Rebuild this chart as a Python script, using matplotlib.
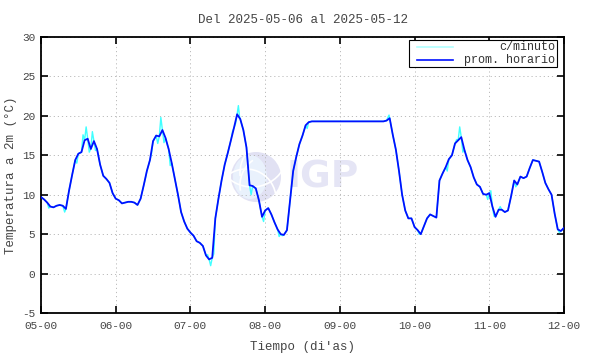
import matplotlib
matplotlib.use("Agg")
import matplotlib.pyplot as plt
from matplotlib.patches import Ellipse, Arc, Rectangle
from matplotlib.lines import Line2D

# ---------------- data ----------------
title = "Del 2025-05-06 al 2025-05-12"
xlabel = "Tiempo (di'as)"
ylabel = "Temperatura a 2m (°C)"
series_names = ["c/minuto", "prom. horario"]
tick_labels = ["05-00", "06-00", "07-00", "08-00", "09-00", "10-00", "11-00", "12-00"]
tick_hours = [0, 24, 48, 72, 96, 120, 144, 168]
yticks = [-5, 0, 5, 10, 15, 20, 25, 30]

# hourly mean temperature, hours 0..168
hourly = [
    9.7, 9.4, 9.0, 8.5, 8.4, 8.6, 8.7, 8.6, 8.2, 10.5, 12.5, 14.4, 15.2, 15.4, 16.9, 17.1,
    15.8, 16.8, 15.8, 13.8, 12.4, 12.0, 11.5, 10.2,
    9.5, 9.3, 8.9, 9.0, 9.1, 9.1, 9.0, 8.7, 9.5, 11.2, 13.0, 14.4, 16.8, 17.5, 17.4, 18.2,
    17.2, 15.8, 14.0, 12.0, 10.0, 7.8, 6.6, 5.7,
    5.2, 4.8, 4.1, 3.9, 3.5, 2.3, 1.8, 2.0, 7.0, 9.5, 11.8, 13.8, 15.3, 16.9, 18.5, 20.2,
    19.6, 18.2, 16.0, 11.2, 11.1, 10.8, 9.3, 7.2,
    8.0, 8.3, 7.5, 6.5, 5.6, 5.0, 4.9, 5.5, 9.3, 13.0, 14.8, 16.4, 17.5, 18.8, 19.2, 19.3,
    19.3, 19.3, 19.3, 19.3, 19.3, 19.3, 19.3, 19.3,
    19.3, 19.3, 19.3, 19.3, 19.3, 19.3, 19.3, 19.3, 19.3, 19.3, 19.3, 19.3, 19.3, 19.3, 19.3, 19.4,
    19.7, 17.6, 15.7, 13.0, 10.0, 8.0, 7.0, 7.0,
    5.9, 5.5, 5.0, 6.0, 7.0, 7.5, 7.3, 7.1, 11.8, 12.7, 13.5, 14.5, 15.0, 16.5, 16.9, 17.3,
    15.7, 14.4, 13.5, 12.2, 11.3, 11.0, 10.1, 10.0,
    10.2, 8.5, 7.2, 8.1, 8.1, 7.8, 8.0, 9.8, 11.8, 11.3, 12.3, 12.1, 12.3, 13.4, 14.4, 14.3,
    14.2, 12.9, 11.5, 10.7, 10.0, 7.6, 5.6, 5.4,
    5.8,
]

# visible per-minute excursions (hour, value)
minute_spike_hours = [2.5, 7.6, 11.5, 13.5, 14.5, 15.5, 16.5, 17.5, 33.5, 35.5, 37.5, 38.5, 39.5, 40.5,
                      41.5, 53.5, 54.5, 55.5, 61.5, 62.5, 63.4, 63.8, 67.5, 71.5, 76.5, 77.5,
                      85.5, 111.8, 117.5, 119.5, 121.5, 130.5, 133.5, 134.5, 135.5, 143.5, 144.5,
                      145.5, 147.5, 152.5, 166.5]
minute_spike_values = [8.3, 7.8, 14.0, 17.6, 18.6, 15.4, 18.0, 15.6, 12.0, 15.2, 16.5, 19.8, 16.6, 16.4,
                       13.7, 2.4, 1.0, 2.5, 18.0, 19.0, 21.3, 19.8, 10.0, 6.6, 4.7, 4.8,
                       18.4, 20.1, 7.5, 6.5, 5.0, 13.0, 17.0, 18.6, 15.4, 9.4, 10.5,
                       7.3, 8.5, 11.0, 5.2]

# ---------------- figure ----------------
W, H = 590, 354
AX_L, AX_R, AX_T, AX_B = 41, 564, 37, 313
fig = plt.figure(figsize=(W / 100, H / 100), dpi=100)
ax = fig.add_axes([AX_L / W, 1 - AX_B / H, (AX_R - AX_L) / W, (AX_B - AX_T) / H])
aw, ah = AX_R - AX_L, AX_B - AX_T

mono = "Liberation Mono"

# watermark (IGP logo)
cx, cy, r = (256 - AX_L) / aw, (AX_B - 177) / ah, 25
ax.add_patch(Ellipse((cx, cy), 2 * r / aw, 2 * r / ah, transform=ax.transAxes,
                     facecolor="#e1e1f3", edgecolor="none", zorder=0))
ax.add_patch(Ellipse((cx - 6 / aw, cy), 34 / aw, 44 / ah, transform=ax.transAxes,
                     facecolor="#e9f1fc", edgecolor="none", zorder=0))
for dx, dy, rr, t1, t2 in [(14, -8, 30, 110, 200), (18, 4, 34, 120, 190), (-4, 26, 36, 230, 310),
                            (-10, -22, 30, 20, 110)]:
    ax.add_patch(Arc((cx + dx / aw, cy + dy / ah), 2 * rr / aw, 2 * rr / ah, theta1=t1, theta2=t2,
                     transform=ax.transAxes, color="white", lw=1.2, zorder=0))
ax.text((287 - AX_L) / aw, cy, "IGP", transform=ax.transAxes, fontsize=27, fontweight="bold",
        family="DejaVu Sans", color="#e5e5f5", ha="left", va="center", zorder=0)

hours = list(range(len(hourly)))
# per-minute series: hourly points merged with the read excursions
pts = sorted(list(zip(hours, hourly)) + list(zip(minute_spike_hours, minute_spike_values)))
ax.plot([p[0] for p in pts], [p[1] for p in pts], color="#40ffff", lw=1.0, zorder=2)
ax.plot(hours, hourly, color="#0010ff", lw=1.3, zorder=3)

ax.set_xlim(0, 168)
ax.set_ylim(-5, 30)
ax.set_xticks(tick_hours)
ax.set_xticklabels(tick_labels, family=mono, fontsize=8, color="#444444")
ax.set_yticks(yticks)
ax.set_yticklabels([str(v) for v in yticks], family=mono, fontsize=8, color="#444444")
ax.tick_params(direction="in", length=5, width=1.2, top=True, right=True)
ax.tick_params(axis="x", pad=6)
ax.tick_params(axis="y", pad=4)
ax.grid(True, linestyle=(0, (1.2, 3)), color="#bbbbbb", lw=0.7)
for s in ax.spines.values():
    s.set_linewidth(1.3)

ax.set_title(title, family=mono, fontsize=9, pad=10, color="#444444")
ax.set_xlabel(xlabel, family=mono, fontsize=9, color="#444444", labelpad=7)
ax.set_ylabel(ylabel, family=mono, fontsize=9, color="#444444", labelpad=4)

# legend box (gnuplot style: samples left, text right-aligned)
bx0, bx1, by0, by1 = 409, 557, 40, 67
ax.add_patch(Rectangle(((bx0 - AX_L) / aw, (AX_B - by1) / ah), (bx1 - bx0) / aw, (by1 - by0) / ah,
                       transform=ax.transAxes, facecolor="white", edgecolor="black", lw=0.8, zorder=5))
for i, (name, col) in enumerate(zip(series_names, ["#b0ffff", "#0010ff"])):
    yy = (AX_B - (47 + i * 13)) / ah
    ax.add_line(Line2D([(417 - AX_L) / aw, (453 - AX_L) / aw], [yy, yy], transform=ax.transAxes,
                       color=col, lw=1.2, zorder=6))
    ax.text((555 - AX_L) / aw, yy, name, transform=ax.transAxes, family=mono, fontsize=8.5, ha="right",
            va="center", color="#333333", zorder=6)

fig.savefig("out.png", dpi=100)
